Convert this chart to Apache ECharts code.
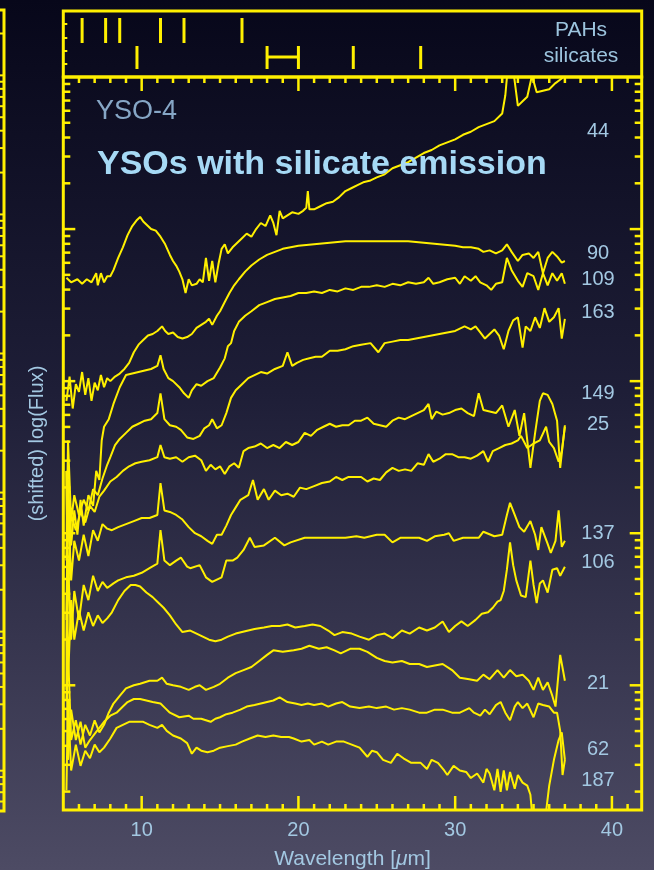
<!DOCTYPE html>
<html>
<head>
<meta charset="utf-8">
<script src="https://cdn.jsdelivr.net/npm/echarts@6/dist/echarts.min.js"></script>
<style>
  html, body { margin: 0; padding: 0; background: #0a0a1f; }
  #chart { width: 654px; height: 870px; }
</style>
</head>
<body>
<div id="chart"></div>
<script>
// Spitzer IRS spectra of young stellar objects, [wavelength (um), shifted log10 flux]
const spec44 = [[5.2,2.68],[5.5,2.65],[5.9,2.67],[6.2,2.64],[6.5,2.67],[6.8,2.65],[7.1,2.71],[7.2,2.63],[7.4,2.71],[7.6,2.65],[7.8,2.69],[8.0,2.69],[8.2,2.73],[8.5,2.81],[8.8,2.88],[9.1,2.96],[9.4,3.02],[9.7,3.06],[9.9,3.08],[10.1,3.05],[10.3,3.03],[10.6,3.00],[10.9,2.99],[11.2,2.95],[11.5,2.90],[11.8,2.83],[12.0,2.79],[12.2,2.76],[12.4,2.72],[12.6,2.67],[12.8,2.58],[13.0,2.67],[13.2,2.63],[13.5,2.64],[13.7,2.67],[13.9,2.65],[14.1,2.81],[14.3,2.66],[14.5,2.79],[14.7,2.65],[14.9,2.77],[15.1,2.87],[15.3,2.90],[15.5,2.84],[15.8,2.88],[16.1,2.91],[16.4,2.94],[16.7,2.97],[17.0,2.95],[17.3,3.00],[17.6,3.04],[17.9,3.02],[18.2,3.09],[18.4,3.04],[18.6,2.96],[18.8,3.12],[19.0,3.07],[19.3,3.09],[19.6,3.11],[20.0,3.10],[20.3,3.12],[20.5,3.14],[20.6,3.25],[20.7,3.13],[21.0,3.13],[21.4,3.15],[21.8,3.17],[22.2,3.18],[22.6,3.21],[23.0,3.25],[23.4,3.27],[23.8,3.29],[24.2,3.31],[24.6,3.32],[25.0,3.34],[25.5,3.36],[26.0,3.40],[26.5,3.42],[27.0,3.44],[27.5,3.47],[28.0,3.50],[28.5,3.52],[29.0,3.55],[29.5,3.57],[30.0,3.59],[30.5,3.62],[31.0,3.64],[31.5,3.67],[32.0,3.69],[32.5,3.71],[33.0,3.76],[33.2,3.88],[33.4,4.11],[33.7,4.05],[34.0,3.81],[34.3,3.84],[34.6,3.87],[34.9,4.01],[35.2,3.90],[35.6,3.91],[36.0,3.92],[36.4,3.96],[36.8,3.99],[37.0,4.03]];

const spec90 = [[5.2,1.87],[5.4,2.03],[5.6,1.82],[5.8,1.98],[6.0,1.93],[6.2,2.06],[6.4,1.91],[6.6,2.02],[6.8,1.87],[7.0,1.99],[7.2,1.94],[7.4,2.04],[7.6,1.96],[7.8,2.02],[8.0,2.00],[8.3,2.03],[8.6,2.05],[8.9,2.08],[9.2,2.12],[9.5,2.19],[9.8,2.24],[10.1,2.27],[10.4,2.30],[10.7,2.31],[11.0,2.33],[11.3,2.36],[11.5,2.33],[11.7,2.31],[12.0,2.32],[12.3,2.29],[12.6,2.28],[12.9,2.29],[13.2,2.31],[13.5,2.35],[13.8,2.37],[14.1,2.39],[14.3,2.41],[14.5,2.37],[14.8,2.43],[15.0,2.46],[15.3,2.52],[15.6,2.58],[15.9,2.63],[16.2,2.67],[16.6,2.72],[17.0,2.76],[17.5,2.80],[18.0,2.83],[18.5,2.85],[19.0,2.87],[19.5,2.88],[20.0,2.89],[21.0,2.90],[22.0,2.91],[23.0,2.92],[24.0,2.92],[25.0,2.92],[26.0,2.92],[27.0,2.92],[28.0,2.91],[29.0,2.90],[30.0,2.89],[30.5,2.88],[31.0,2.88],[31.5,2.87],[31.8,2.85],[32.2,2.86],[32.6,2.84],[33.0,2.86],[33.3,2.90],[33.6,2.85],[34.0,2.79],[34.3,2.83],[34.7,2.84],[35.0,2.81],[35.3,2.85],[35.6,2.71],[35.9,2.81],[36.2,2.85],[36.5,2.82],[36.8,2.78],[37.0,2.79]];

const spec109 = [[5.2,0.43],[5.3,1.35],[5.5,0.92],[5.7,1.15],[5.9,0.99],[6.1,1.22],[6.3,1.05],[6.6,1.25],[6.9,1.18],[7.1,1.41],[7.3,1.35],[7.45,1.61],[7.6,1.70],[7.9,1.75],[8.2,1.85],[8.6,1.96],[9.0,2.04],[9.4,2.05],[9.8,2.06],[10.2,2.07],[10.6,2.08],[11.0,2.10],[11.2,2.17],[11.4,2.08],[11.7,2.02],[12.0,2.00],[12.4,1.96],[12.7,1.92],[13.0,1.89],[13.2,1.94],[13.5,1.98],[13.8,1.97],[14.2,2.00],[14.6,2.02],[15.0,2.09],[15.3,2.15],[15.5,2.23],[15.7,2.25],[15.9,2.33],[16.2,2.39],[16.6,2.43],[17.0,2.46],[17.5,2.50],[18.0,2.52],[18.5,2.54],[19.0,2.55],[19.5,2.56],[20.0,2.58],[20.5,2.58],[21.0,2.59],[21.5,2.58],[22.0,2.60],[22.5,2.59],[23.0,2.61],[23.5,2.60],[24.0,2.62],[24.5,2.62],[25.0,2.63],[25.5,2.62],[26.0,2.64],[26.5,2.63],[27.0,2.65],[27.5,2.64],[28.0,2.65],[28.3,2.68],[28.6,2.64],[29.0,2.65],[29.5,2.67],[30.0,2.68],[30.3,2.64],[30.6,2.69],[31.0,2.66],[31.3,2.69],[31.6,2.65],[32.0,2.63],[32.3,2.60],[32.6,2.64],[33.0,2.65],[33.3,2.81],[33.6,2.73],[34.0,2.66],[34.3,2.62],[34.6,2.71],[35.0,2.69],[35.3,2.60],[35.6,2.71],[35.9,2.63],[36.2,2.71],[36.5,2.66],[36.8,2.71],[37.0,2.64]];

const spec163 = [[5.2,0.82],[5.3,1.61],[5.5,1.08],[5.7,1.25],[6.0,1.12],[6.3,1.22],[6.6,1.15],[6.9,1.29],[7.2,1.25],[7.5,1.36],[7.8,1.45],[8.0,1.50],[8.3,1.58],[8.6,1.62],[9.0,1.66],[9.4,1.70],[9.8,1.72],[10.2,1.74],[10.6,1.75],[11.0,1.79],[11.2,1.92],[11.45,1.75],[11.8,1.71],[12.2,1.70],[12.5,1.68],[12.9,1.63],[13.3,1.62],[13.7,1.64],[14.0,1.69],[14.3,1.71],[14.5,1.75],[14.8,1.69],[15.1,1.71],[15.4,1.79],[15.7,1.89],[16.0,1.94],[16.4,1.98],[16.8,2.02],[17.2,2.04],[17.6,2.06],[18.0,2.05],[18.5,2.08],[19.0,2.10],[19.3,2.19],[19.6,2.10],[19.9,2.12],[20.3,2.14],[20.7,2.15],[21.1,2.16],[21.5,2.16],[22.0,2.20],[22.5,2.20],[23.0,2.21],[23.5,2.23],[24.0,2.24],[24.6,2.25],[25.1,2.19],[25.5,2.25],[26.0,2.26],[26.5,2.27],[27.0,2.27],[27.5,2.28],[28.0,2.29],[28.5,2.30],[29.0,2.31],[29.5,2.32],[30.0,2.33],[30.6,2.36],[31.0,2.34],[31.3,2.36],[31.6,2.32],[31.9,2.28],[32.2,2.31],[32.5,2.34],[32.8,2.30],[33.1,2.21],[33.4,2.33],[33.7,2.40],[34.0,2.42],[34.3,2.22],[34.5,2.36],[34.8,2.33],[35.1,2.42],[35.4,2.35],[35.7,2.48],[36.0,2.39],[36.3,2.42],[36.6,2.48],[36.8,2.28],[37.0,2.41]];

const spec149 = [[5.2,1.41],[5.3,0.56],[5.5,1.12],[5.8,1.02],[6.1,1.14],[6.4,1.07],[6.7,1.18],[7.0,1.14],[7.3,1.24],[7.6,1.28],[8.0,1.34],[8.4,1.37],[8.8,1.41],[9.2,1.44],[9.6,1.46],[10.0,1.47],[10.5,1.48],[11.0,1.50],[11.2,1.58],[11.45,1.50],[11.8,1.49],[12.2,1.50],[12.6,1.47],[13.0,1.50],[13.4,1.51],[13.8,1.48],[14.1,1.41],[14.4,1.45],[14.7,1.42],[15.0,1.44],[15.3,1.39],[15.6,1.44],[15.9,1.46],[16.2,1.43],[16.5,1.54],[16.8,1.56],[17.2,1.57],[17.6,1.59],[18.0,1.56],[18.4,1.58],[18.8,1.56],[19.2,1.60],[19.6,1.58],[20.0,1.60],[20.4,1.66],[20.8,1.64],[21.2,1.68],[21.6,1.70],[22.0,1.72],[22.4,1.70],[22.8,1.71],[23.2,1.71],[23.6,1.74],[24.0,1.74],[24.4,1.76],[24.8,1.72],[25.2,1.71],[25.6,1.70],[26.0,1.74],[26.4,1.76],[26.8,1.75],[27.2,1.77],[27.6,1.79],[28.0,1.81],[28.3,1.85],[28.5,1.75],[28.8,1.80],[29.2,1.78],[29.6,1.79],[30.0,1.81],[30.4,1.82],[30.8,1.79],[31.2,1.77],[31.5,1.92],[31.8,1.81],[32.2,1.80],[32.6,1.79],[33.0,1.84],[33.4,1.70],[33.8,1.81],[34.1,1.64],[34.4,1.79],[34.8,1.43],[35.1,1.66],[35.4,1.87],[35.6,1.92],[35.9,1.91],[36.2,1.85],[36.5,1.74],[36.7,1.43],[37.0,1.71]];

const spec25 = [[5.2,0.30],[5.3,1.22],[5.5,0.69],[5.7,0.95],[6.0,0.82],[6.3,0.99],[6.6,0.85],[6.9,1.02],[7.2,0.95],[7.5,1.06],[7.8,1.03],[8.1,1.02],[8.5,1.04],[9.0,1.06],[9.5,1.08],[10.0,1.10],[10.5,1.10],[11.0,1.12],[11.2,1.33],[11.45,1.15],[11.8,1.14],[12.2,1.12],[12.6,1.09],[13.0,1.04],[13.4,1.00],[13.8,0.98],[14.2,0.95],[14.5,0.93],[14.8,0.99],[15.1,0.99],[15.4,1.05],[15.7,1.12],[16.0,1.17],[16.3,1.22],[16.8,1.25],[17.1,1.35],[17.4,1.22],[17.8,1.29],[18.1,1.22],[18.5,1.28],[18.9,1.25],[19.3,1.26],[19.7,1.24],[20.1,1.30],[20.5,1.29],[21.0,1.31],[21.5,1.33],[22.0,1.34],[22.4,1.37],[22.8,1.35],[23.2,1.37],[23.6,1.37],[24.0,1.37],[24.4,1.34],[24.8,1.36],[25.2,1.35],[25.6,1.40],[26.0,1.43],[26.4,1.41],[26.8,1.42],[27.2,1.41],[27.6,1.46],[28.0,1.45],[28.3,1.52],[28.6,1.47],[29.0,1.49],[29.4,1.52],[29.8,1.52],[30.2,1.50],[30.6,1.50],[31.0,1.49],[31.4,1.51],[31.8,1.54],[32.1,1.47],[32.4,1.54],[32.8,1.56],[33.2,1.58],[33.6,1.59],[34.0,1.61],[34.2,1.64],[34.6,1.56],[35.0,1.59],[35.4,1.61],[35.8,1.70],[36.0,1.60],[36.3,1.56],[36.6,1.47],[36.8,1.54],[37.0,1.70]];

const spec137 = [[5.2,-0.03],[5.3,0.82],[5.5,0.30],[5.7,0.62],[6.0,0.43],[6.3,0.66],[6.6,0.56],[6.9,0.72],[7.2,0.62],[7.5,0.68],[7.8,0.64],[8.2,0.67],[8.5,0.69],[9.0,0.71],[9.5,0.72],[10.0,0.74],[10.5,0.77],[11.0,0.80],[11.2,1.02],[11.45,0.82],[11.8,0.79],[12.2,0.82],[12.5,0.84],[12.9,0.78],[13.1,0.77],[13.7,0.79],[14.1,0.71],[14.5,0.68],[15.1,0.71],[15.4,0.82],[15.8,0.82],[16.1,0.84],[16.5,0.89],[16.9,0.97],[17.2,0.91],[17.8,0.92],[18.5,0.97],[19.1,0.92],[19.5,0.94],[20.4,0.97],[21.2,0.97],[22.0,0.97],[23.0,0.97],[23.7,0.98],[24.2,0.97],[25.0,0.99],[25.5,0.99],[26.0,0.94],[26.5,0.97],[27.3,0.97],[27.7,0.97],[28.2,0.95],[28.7,0.98],[29.3,0.99],[29.6,1.00],[29.9,0.95],[30.5,0.97],[31.1,0.97],[31.5,0.97],[31.8,1.01],[32.5,0.98],[33.0,0.99],[33.3,1.12],[33.5,1.20],[33.8,1.12],[34.1,1.04],[34.4,1.01],[34.8,1.08],[35.1,0.99],[35.3,0.89],[35.5,1.04],[35.9,0.93],[36.1,0.87],[36.4,0.95],[36.6,1.15],[36.8,0.91],[37.0,0.95]];

const spec106 = [[5.2,1.41],[5.3,0.03],[5.5,0.56],[5.7,0.30],[6.0,0.49],[6.3,0.36],[6.6,0.48],[6.9,0.39],[7.2,0.46],[7.5,0.41],[7.8,0.44],[8.1,0.48],[8.5,0.56],[8.9,0.62],[9.3,0.66],[9.6,0.66],[9.9,0.65],[10.3,0.61],[10.7,0.58],[11.0,0.55],[11.4,0.51],[11.8,0.46],[12.2,0.40],[12.6,0.35],[13.1,0.36],[13.5,0.34],[13.9,0.32],[14.3,0.30],[14.7,0.29],[15.1,0.30],[15.5,0.32],[16.0,0.34],[16.4,0.35],[16.8,0.36],[17.2,0.37],[17.8,0.38],[18.3,0.39],[18.8,0.39],[19.3,0.40],[19.8,0.38],[20.4,0.39],[20.9,0.40],[21.4,0.39],[21.9,0.36],[22.3,0.33],[22.8,0.35],[23.4,0.34],[23.9,0.32],[24.5,0.30],[25.0,0.33],[25.5,0.34],[26.0,0.31],[26.6,0.36],[27.1,0.34],[27.7,0.38],[28.2,0.36],[28.7,0.38],[29.2,0.42],[29.6,0.35],[30.0,0.39],[30.4,0.42],[30.8,0.39],[31.3,0.43],[31.7,0.47],[32.1,0.48],[32.4,0.51],[32.7,0.55],[32.9,0.56],[33.1,0.62],[33.3,0.76],[33.5,0.94],[33.7,0.79],[33.9,0.69],[34.2,0.59],[34.5,0.58],[34.8,0.82],[35.0,0.66],[35.2,0.54],[35.4,0.67],[35.6,0.69],[35.9,0.61],[36.2,0.76],[36.5,0.77],[36.7,0.72],[37.0,0.78]];

const spec21 = [[5.2,-0.10],[5.3,0.23],[5.5,-0.36],[5.8,-0.23],[6.1,-0.39],[6.4,-0.26],[6.7,-0.33],[7.0,-0.23],[7.3,-0.31],[7.6,-0.26],[7.9,-0.18],[8.2,-0.12],[8.6,-0.07],[9.0,-0.02],[9.5,0.00],[9.9,0.01],[10.5,0.03],[11.0,0.03],[11.3,0.05],[11.6,0.01],[12.0,0.00],[12.5,-0.01],[13.0,-0.03],[13.4,-0.01],[13.7,0.00],[14.1,-0.03],[14.6,-0.01],[15.0,0.01],[15.5,0.05],[16.0,0.08],[16.5,0.10],[17.0,0.12],[17.5,0.16],[18.0,0.20],[18.4,0.23],[19.0,0.22],[19.7,0.23],[20.2,0.24],[20.7,0.26],[21.3,0.24],[21.8,0.25],[22.3,0.23],[22.7,0.21],[23.3,0.24],[23.9,0.24],[24.4,0.22],[25.0,0.18],[25.5,0.16],[26.0,0.15],[26.6,0.16],[27.1,0.14],[27.7,0.14],[28.2,0.12],[28.7,0.13],[29.2,0.14],[29.8,0.10],[30.3,0.05],[30.9,0.04],[31.4,0.03],[31.8,0.07],[32.2,0.04],[32.7,0.10],[33.1,0.05],[33.5,0.10],[33.9,0.06],[34.3,0.07],[34.7,0.03],[35.0,-0.03],[35.3,0.05],[35.6,-0.03],[35.9,0.02],[36.2,-0.07],[36.4,-0.14],[36.7,0.20],[37.0,0.03]];

const spec62 = [[5.2,0.30],[5.3,-0.49],[5.5,-0.16],[5.8,-0.36],[6.1,-0.24],[6.4,-0.41],[6.7,-0.36],[7.0,-0.32],[7.3,-0.28],[7.6,-0.24],[8.0,-0.20],[8.4,-0.18],[8.8,-0.14],[9.1,-0.11],[9.5,-0.09],[9.9,-0.09],[10.3,-0.10],[10.7,-0.11],[11.2,-0.12],[11.5,-0.15],[11.8,-0.18],[12.4,-0.21],[13.0,-0.20],[13.3,-0.22],[13.8,-0.22],[14.4,-0.24],[14.7,-0.22],[15.0,-0.21],[15.4,-0.19],[15.8,-0.18],[16.3,-0.16],[16.7,-0.14],[17.2,-0.13],[17.6,-0.12],[18.0,-0.11],[18.4,-0.10],[18.8,-0.08],[19.3,-0.11],[19.8,-0.12],[20.2,-0.13],[20.6,-0.12],[21.0,-0.13],[21.5,-0.12],[21.9,-0.14],[22.4,-0.12],[22.8,-0.11],[23.3,-0.14],[23.9,-0.15],[24.5,-0.14],[25.0,-0.15],[25.6,-0.14],[26.1,-0.16],[26.6,-0.15],[27.1,-0.16],[27.7,-0.18],[28.2,-0.18],[28.7,-0.16],[29.2,-0.16],[29.8,-0.18],[30.3,-0.18],[30.9,-0.15],[31.2,-0.18],[31.6,-0.20],[31.9,-0.16],[32.2,-0.19],[32.6,-0.13],[32.9,-0.11],[33.2,-0.18],[33.5,-0.23],[33.8,-0.14],[34.0,-0.11],[34.3,-0.15],[34.6,-0.12],[35.0,-0.21],[35.3,-0.12],[35.6,-0.13],[36.0,-0.14],[36.3,-0.18],[36.5,-0.18],[36.7,-0.30],[36.85,-0.59],[37.0,-0.49]];

const spec187 = [[5.2,-0.69],[5.3,-0.10],[5.5,-0.56],[5.8,-0.39],[6.1,-0.53],[6.4,-0.43],[6.7,-0.48],[7.0,-0.39],[7.3,-0.44],[7.6,-0.41],[8.0,-0.35],[8.4,-0.28],[8.8,-0.26],[9.2,-0.24],[9.7,-0.24],[10.1,-0.24],[10.5,-0.26],[11.0,-0.28],[11.3,-0.26],[11.6,-0.30],[12.0,-0.33],[12.5,-0.35],[12.9,-0.38],[13.2,-0.45],[13.5,-0.41],[13.8,-0.43],[14.2,-0.44],[14.6,-0.43],[15.0,-0.41],[15.5,-0.40],[16.0,-0.39],[16.4,-0.37],[16.9,-0.35],[17.4,-0.33],[17.9,-0.34],[18.4,-0.33],[18.9,-0.34],[19.4,-0.34],[19.7,-0.35],[20.2,-0.37],[20.7,-0.36],[21.0,-0.39],[21.5,-0.37],[21.9,-0.39],[22.4,-0.37],[22.9,-0.37],[23.4,-0.39],[23.9,-0.41],[24.4,-0.47],[24.7,-0.43],[25.0,-0.44],[25.4,-0.49],[25.9,-0.51],[26.3,-0.45],[26.7,-0.48],[27.2,-0.51],[27.8,-0.51],[28.2,-0.55],[28.5,-0.49],[28.9,-0.51],[29.3,-0.56],[29.5,-0.59],[29.9,-0.53],[30.3,-0.56],[30.7,-0.57],[31.0,-0.61],[31.4,-0.58],[31.8,-0.64],[32.0,-0.55],[32.2,-0.58],[32.5,-0.69],[32.7,-0.55],[32.9,-0.70],[33.1,-0.56],[33.3,-0.69],[33.5,-0.57],[33.8,-0.68],[34.0,-0.59],[34.3,-0.64],[34.6,-0.66],[34.8,-0.72],[35.0,-0.95],[35.2,-1.15],[35.5,-1.15],[35.8,-0.83],[36.0,-0.66],[36.3,-0.49],[36.6,-0.36],[36.8,-0.31],[37.0,-0.49]];

// source numbers, top to bottom
const sourceIds = ['44', '90', '109', '163', '149', '25', '137', '106', '21', '62', '187'];
const spectra = [spec44, spec90, spec109, spec163, spec149, spec25, spec137, spec106, spec21, spec62, spec187];

// feature markers in the top strip (um)
const pahBands = [6.2, 7.7, 8.6, 11.2, 12.7, 16.4];
const silicateBands = [9.7, 23.5, 27.8];
const silicateRange = [18, 20];

// wavelength tick labels
const xTickLabels = [10, 20, 30, 40];

// ---- layout and style ----
const YELLOW = '#fff000';
const TEXT_BLUE = '#a3c8e2';
const FONT = '"Liberation Sans", Arial, Helvetica, sans-serif';
const X_RANGE = [5, 41.9];
const Y_RANGE = [-0.82, 4.0];
const SIDE_Y_RANGE = [-0.29, 5.47];
const idRowY = [131, 253, 279, 312, 393, 424, 533, 562, 683, 749, 780];

function logTicks(lo, hi) {
  const out = [];
  for (let d = Math.floor(lo); d <= Math.ceil(hi); d++) {
    for (let m = 1; m <= 9; m++) {
      const v = d + Math.log10(m);
      if (v > lo + 1e-6 && v < hi - 1e-6) out.push([v, m === 1]);
    }
  }
  return out;
}

const xTicks = [];
for (let x = Math.ceil(X_RANGE[0]) + 1; x < X_RANGE[1]; x++) xTicks.push([x, x % 10 === 0]);

// inward tick marks on the frame of a panel
function frameTickSeries(xi, yi, xr, yr, opt) {
  return {
    type: 'custom', xAxisIndex: xi, yAxisIndex: yi, silent: true, clip: false, z: 6,
    animation: false,
    data: [[xr[0], yr[0]]],
    renderItem: function (params, api) {
      const kids = [];
      const seg = (x1, y1, x2, y2) => kids.push({
        type: 'line', shape: { x1: x1, y1: y1, x2: x2, y2: y2 },
        style: { stroke: YELLOW, lineWidth: opt.w }
      });
      opt.yTicks.forEach(([v, major]) => {
        const len = major ? opt.major : opt.minor;
        const a = api.coord([xr[0], v]);
        const b = api.coord([xr[1], v]);
        if (opt.left) seg(a[0], a[1], a[0] + len, a[1]);
        if (opt.right) seg(b[0], b[1], b[0] - len, b[1]);
      });
      (opt.xTicks || []).forEach(([x, major]) => {
        const len = major ? opt.xMajor : opt.xMinor;
        const a = api.coord([x, yr[0]]);
        const b = api.coord([x, yr[1]]);
        seg(a[0], a[1], a[0], a[1] - len);
        seg(b[0], b[1], b[0], b[1] + len);
      });
      return { type: 'group', children: kids };
    }
  };
}

// vertical feature bars in the strip
function barSeries(data, y0, y1) {
  return {
    type: 'custom', xAxisIndex: 1, yAxisIndex: 1, silent: true, animation: false, z: 5,
    data: data.map(w => [w, (y0 + y1) / 2]),
    encode: { x: 0, y: 1 },
    renderItem: function (params, api) {
      const a = api.coord([api.value(0), y0]);
      const b = api.coord([api.value(0), y1]);
      return { type: 'line', shape: { x1: a[0], y1: a[1], x2: b[0], y2: b[1] },
        style: { stroke: YELLOW, lineWidth: 3 } };
    }
  };
}

const rangeSeries = {
  type: 'custom', xAxisIndex: 1, yAxisIndex: 1, silent: true, animation: false, z: 5,
  data: [[silicateRange[0], silicateRange[1]]],
  renderItem: function (params, api) {
    const w0 = api.value(0), w1 = api.value(1);
    const t0 = api.coord([w0, 0.47]), b0 = api.coord([w0, 0.121]);
    const t1 = api.coord([w1, 0.47]), b1 = api.coord([w1, 0.121]);
    const m0 = api.coord([w0, 0.303]), m1 = api.coord([w1, 0.303]);
    const st = { stroke: YELLOW, lineWidth: 3 };
    return { type: 'group', children: [
      { type: 'line', shape: { x1: t0[0], y1: t0[1], x2: b0[0], y2: b0[1] }, style: st },
      { type: 'line', shape: { x1: t1[0], y1: t1[1], x2: b1[0], y2: b1[1] }, style: st },
      { type: 'line', shape: { x1: m0[0], y1: m0[1], x2: m1[0], y2: m1[1] }, style: st }
    ] };
  }
};

const spectrumSeries = spectra.map((d, i) => ({
  type: 'line', name: sourceIds[i], data: d, xAxisIndex: 0, yAxisIndex: 0,
  showSymbol: false, symbol: 'none', clip: true, animation: false, z: 3,
  lineStyle: { color: YELLOW, width: 2 }
}));

function txt(x, y, text, size, color, extra) {
  return Object.assign({
    type: 'text', x: x, y: y, z: 100, silent: true,
    style: {
      text: text, fill: color, font: size + 'px ' + FONT,
      align: 'center', verticalAlign: 'middle',
      textAlign: 'center', textVerticalAlign: 'middle'
    }
  }, extra || {});
}

const graphics = [
  txt(581, 30, 'PAHs', 21, '#9cc4de'),
  txt(581, 56, 'silicates', 21, '#9cc4de'),
  {
    type: 'text', x: 96, y: 112, z: 100, silent: true,
    style: { text: 'YSO-4', fill: '#86a6c6', font: '27px ' + FONT,
      align: 'left', verticalAlign: 'middle', textAlign: 'left', textVerticalAlign: 'middle' }
  },
  {
    type: 'text', x: 97, y: 165, z: 100, silent: true,
    style: { text: 'YSOs with silicate emission', fill: '#a6d9f5', font: 'bold 34px ' + FONT,
      align: 'left', verticalAlign: 'middle', textAlign: 'left', textVerticalAlign: 'middle' }
  }
].concat(sourceIds.map((id, i) => txt(598, idRowY[i], id, 20, TEXT_BLUE)));

const gridBase = { show: true, borderColor: YELLOW, borderWidth: 3, backgroundColor: 'transparent', containLabel: false, outerBoundsMode: 'none' };

const chart = echarts.init(document.getElementById('chart'), null, { renderer: 'canvas' });
chart.setOption({
  animation: false,
  backgroundColor: {
    type: 'linear', x: 0, y: 0, x2: 0, y2: 1,
    colorStops: [
      { offset: 0, color: '#07071a' },
      { offset: 0.45, color: '#1e1e37' },
      { offset: 1, color: '#4d4b64' }
    ]
  },
  grid: [
    Object.assign({ left: 63.3, top: 77, width: 578.4, height: 733 }, gridBase),
    Object.assign({ left: 63.3, top: 11, width: 578.4, height: 66 }, gridBase),
    Object.assign({ left: -50, top: 10, width: 54, height: 801 }, gridBase)
  ],
  xAxis: [
    {
      gridIndex: 0, type: 'value', min: X_RANGE[0], max: X_RANGE[1], interval: 5,
      axisLine: { show: false, onZero: false }, axisTick: { show: false }, splitLine: { show: false },
      axisLabel: {
        color: TEXT_BLUE, fontSize: 20, fontFamily: FONT, margin: 10,
        showMinLabel: false, showMaxLabel: false,
        formatter: v => (xTickLabels.indexOf(v) >= 0 ? String(v) : '')
      },
      name: 'Wavelength [{it|μ}m]', nameLocation: 'middle', nameGap: 39,
      nameTextStyle: {
        color: TEXT_BLUE, fontSize: 21, fontFamily: FONT,
        rich: { it: { fontStyle: 'italic', color: TEXT_BLUE, fontSize: 21, fontFamily: FONT } }
      }
    },
    { gridIndex: 1, type: 'value', min: X_RANGE[0], max: X_RANGE[1], show: false },
    { gridIndex: 2, type: 'value', min: 0, max: 1, show: false }
  ],
  yAxis: [
    {
      gridIndex: 0, type: 'value', min: Y_RANGE[0], max: Y_RANGE[1],
      axisLine: { show: false, onZero: false }, axisTick: { show: false },
      axisLabel: { show: false }, splitLine: { show: false },
      name: '(shifted) log(Flux)', nameLocation: 'middle', nameGap: 16, nameRotate: 90,
      nameTextStyle: { color: TEXT_BLUE, fontSize: 20, fontFamily: FONT }
    },
    {
      gridIndex: 1, type: 'value', min: 0, max: 1, interval: 0.2,
      axisLine: { show: false, onZero: false },
      axisTick: { show: true, inside: true, length: 4, lineStyle: { color: YELLOW, width: 2 } },
      axisLabel: { show: false }, splitLine: { show: false }
    },
    {
      gridIndex: 2, type: 'value', min: SIDE_Y_RANGE[0], max: SIDE_Y_RANGE[1],
      axisLine: { show: false, onZero: false }, axisTick: { show: false },
      axisLabel: { show: false }, splitLine: { show: false }
    }
  ],
  graphic: graphics,
  series: spectrumSeries.concat([
    frameTickSeries(0, 0, X_RANGE, Y_RANGE, {
      yTicks: logTicks(Y_RANGE[0], Y_RANGE[1]), left: true, right: true,
      major: 12, minor: 7, w: 2.5, xTicks: xTicks, xMajor: 14, xMinor: 6
    }),
    frameTickSeries(2, 2, [0, 1], SIDE_Y_RANGE, {
      yTicks: logTicks(SIDE_Y_RANGE[0], SIDE_Y_RANGE[1]), left: false, right: true,
      major: 8, minor: 5, w: 2
    }),
    barSeries(pahBands, 0.894, 0.515),
    barSeries(silicateBands, 0.47, 0.121),
    rangeSeries
  ])
});
</script>
</body>
</html>
